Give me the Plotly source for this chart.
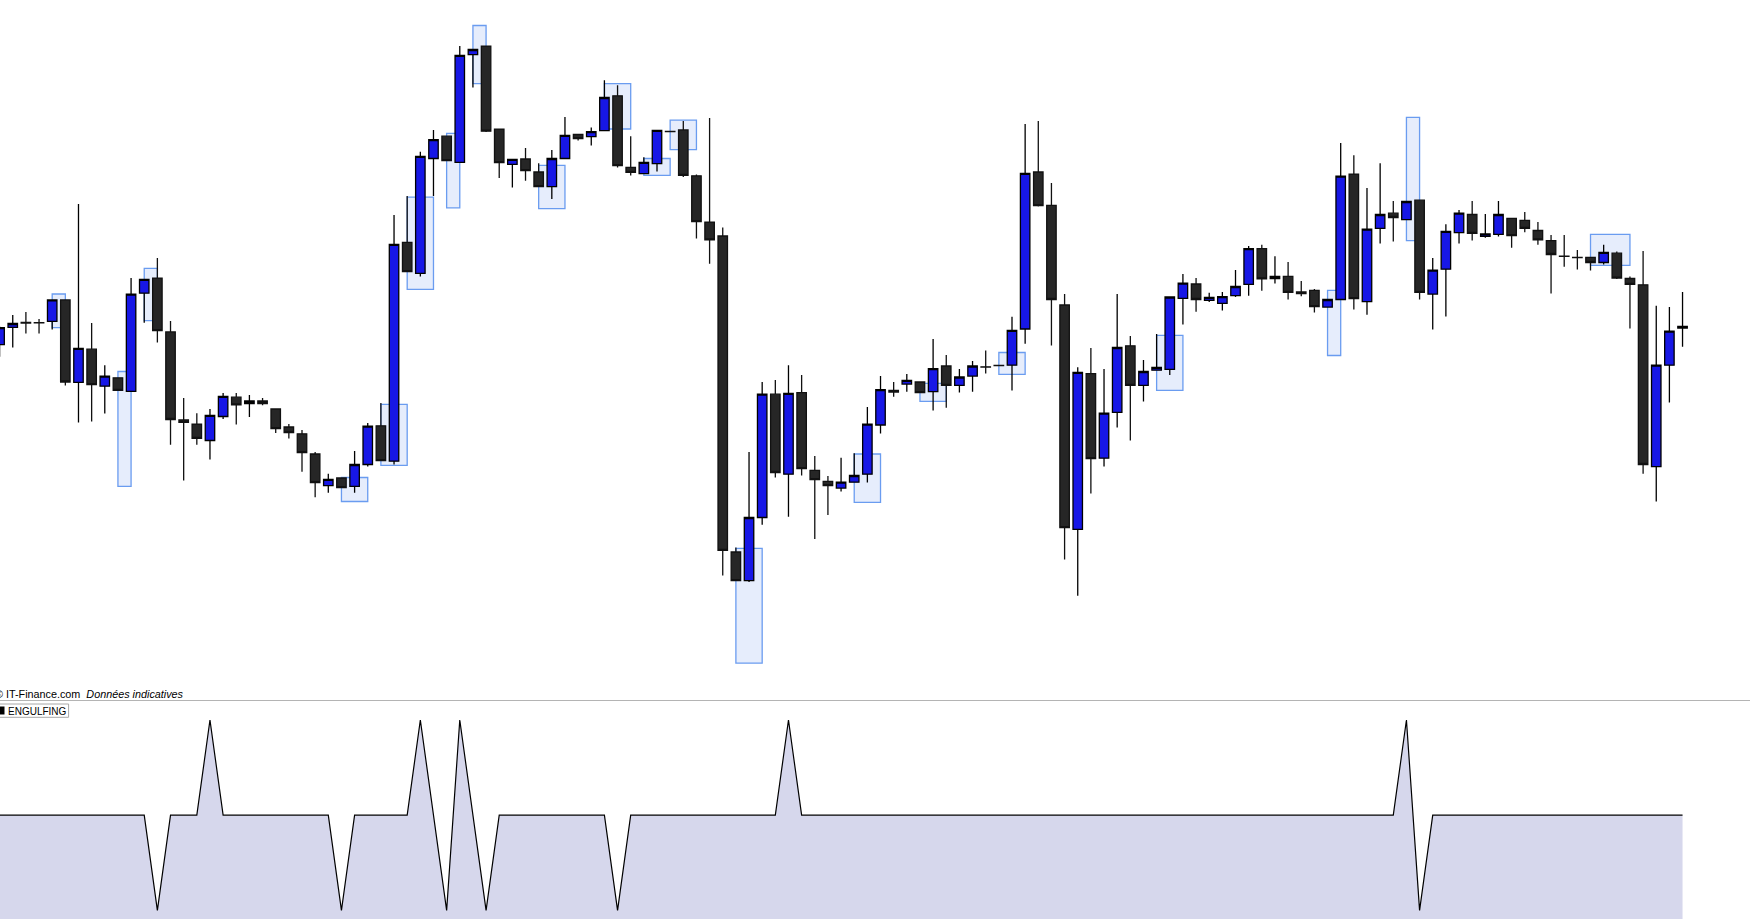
import plotly.graph_objects as go

# ---------------- data ----------------
open_ = [355.4, 372.7, 377.6, 377.4, 378.6, 400.1, 317.6, 350.8, 313.8, 322.2,
         308.7, 406.8, 421.9, 368.1, 280.1, 275.9, 259.5, 283.5, 302.8, 296.5,
         299.0, 291.0, 273.0, 266.2, 246.0, 214.4, 222.0, 213.6, 235.5, 274.2,
         238.8, 457.7, 426.6, 541.5, 563.8, 537.7, 645.4, 653.9, 570.9, 535.6,
         541.0, 528.0, 513.3, 541.5, 565.5, 563.4, 569.3, 604.2, 532.6, 526.3,
         536.4, 568.6, 570.1, 524.2, 477.9, 464.0, 148.0, 119.3, 182.5, 305.8,
         225.8, 307.4, 229.6, 218.6, 211.9, 217.8, 225.8, 275.0, 309.6, 315.9,
         318.0, 308.3, 334.0, 314.6, 323.9, 333.2, 334.5, 334.8, 371.0, 528.0,
         494.7, 395.0, 170.7, 326.4, 241.8, 287.7, 354.2, 314.6, 329.8, 330.6,
         401.7, 416.0, 399.6, 396.7, 404.3, 415.6, 451.4, 421.5, 423.6, 408.0,
         409.7, 392.9, 400.5, 525.9, 398.4, 471.6, 486.8, 480.4, 499.8, 405.9,
         430.8, 467.4, 485.5, 463.6, 465.7, 481.7, 479.6, 469.5, 459.4, 443.9,
         442.7, 442.6, 437.5, 446.8, 421.5, 415.2, 233.4, 334.8, 371.9]
high = [373.5, 384.9, 387.9, 381.1, 400.5, 400.1, 496.0, 376.9, 334.8, 322.2,
        421.9, 420.7, 442.1, 379.0, 302.0, 286.8, 291.0, 307.0, 307.0, 304.9,
        302.0, 291.0, 275.9, 270.0, 248.1, 226.2, 222.0, 248.9, 277.1, 296.9,
        485.1, 504.0, 548.2, 570.1, 563.8, 653.9, 650.5, 653.9, 570.9, 540.6,
        552.0, 536.8, 549.9, 583.1, 565.5, 572.6, 619.8, 614.7, 563.8, 542.7,
        569.7, 568.8, 578.9, 525.5, 581.9, 472.4, 152.6, 248.1, 318.0, 320.1,
        334.8, 325.1, 243.9, 224.1, 242.2, 246.8, 293.1, 323.9, 318.0, 326.0,
        318.8, 360.9, 344.9, 331.0, 339.0, 349.5, 334.6, 383.2, 576.0, 578.9,
        517.1, 405.9, 332.7, 352.0, 331.0, 405.9, 363.9, 339.9, 366.0, 403.8,
        426.1, 421.9, 407.2, 408.0, 429.9, 453.9, 455.2, 443.8, 437.9, 419.0,
        411.0, 400.5, 557.0, 544.8, 512.0, 536.8, 499.0, 498.5, 499.8, 442.1,
        475.8, 490.1, 499.0, 485.9, 499.0, 481.7, 488.0, 477.9, 464.9, 464.9,
        450.1, 442.6, 455.2, 448.5, 423.6, 448.9, 394.2, 392.9, 408.0]
low = [343.2, 352.5, 366.4, 366.4, 370.6, 314.6, 277.6, 278.4, 286.4, 309.6,
       308.7, 377.3, 357.5, 255.3, 219.5, 255.3, 240.5, 281.0, 275.5, 283.0,
       294.8, 267.0, 261.6, 228.3, 202.7, 207.3, 212.3, 207.3, 233.4, 239.3,
       235.5, 428.3, 423.6, 504.0, 539.4, 537.7, 612.6, 568.0, 522.1, 512.4,
       519.2, 513.3, 501.0, 541.5, 559.6, 554.5, 569.3, 532.6, 524.6, 526.3,
       528.4, 568.0, 523.0, 461.5, 436.2, 124.4, 119.3, 118.0, 175.3, 222.4,
       183.3, 224.5, 161.0, 185.0, 208.5, 217.8, 217.4, 266.6, 303.2, 308.3,
       307.4, 289.4, 292.3, 307.4, 308.3, 326.4, 334.2, 309.6, 356.3, 493.5,
       354.6, 140.4, 104.2, 206.4, 233.4, 272.5, 259.5, 298.6, 329.8, 325.1,
       375.6, 388.3, 397.9, 389.5, 403.0, 404.3, 409.3, 416.5, 400.5, 403.8,
       387.4, 392.9, 400.5, 390.4, 385.3, 456.5, 458.6, 480.4, 400.5, 370.6,
       383.6, 456.5, 459.4, 462.3, 463.6, 452.2, 467.8, 455.2, 406.4, 433.3,
       430.4, 429.5, 435.4, 421.1, 371.4, 226.2, 198.4, 297.4, 353.3]
close = [372.3, 376.5, 377.0, 377.1, 400.1, 318.0, 351.7, 315.4, 323.9, 309.6,
         405.9, 420.7, 369.3, 280.5, 277.6, 261.6, 284.7, 303.7, 295.2, 299.0,
         296.5, 271.3, 267.5, 247.3, 217.4, 220.7, 212.3, 235.5, 273.8, 239.3,
         455.6, 428.3, 543.6, 560.4, 539.4, 644.6, 650.5, 568.8, 537.3, 540.6,
         529.3, 513.3, 541.5, 564.6, 561.3, 568.4, 602.5, 534.3, 527.6, 537.7,
         569.7, 568.4, 524.6, 478.3, 460.2, 149.6, 119.3, 182.5, 305.8, 227.5,
         306.6, 231.3, 220.3, 214.4, 217.8, 224.5, 275.9, 310.4, 307.9, 319.7,
         307.4, 331.4, 314.6, 323.0, 334.0, 333.0, 334.3, 369.7, 526.7, 494.3,
         400.5, 172.4, 327.6, 241.4, 286.8, 352.5, 314.6, 328.5, 332.7, 403.0,
         416.9, 400.5, 402.6, 403.4, 413.5, 451.4, 421.1, 423.6, 407.6, 406.4,
         393.3, 400.5, 523.8, 401.3, 470.8, 485.5, 482.5, 498.5, 407.6, 429.9,
         468.7, 486.8, 466.6, 466.1, 485.5, 464.4, 471.6, 460.2, 445.5, 443.7,
         442.5, 437.5, 447.6, 421.9, 415.6, 235.5, 334.8, 368.9, 373.6]

# ENGULFING indicator (+100 bullish, -100 bearish, 0 none)
engulfing = [0, 0, 0, 0, 0, 0, 0, 0, 0, 0, 0, 0, -100, 0, 0, 0, 100, 0, 0, 0,
             0, 0, 0, 0, 0, 0, -100, 0, 0, 0, 0, 0, 100, 0, -100, 100, 0, -100, 0, 0,
             0, 0, 0, 0, 0, 0, 0, -100, 0, 0, 0, 0, 0, 0, 0, 0, 0, 0, 0, 0,
             100, 0, 0, 0, 0, 0, 0, 0, 0, 0, 0, 0, 0, 0, 0, 0, 0, 0, 0, 0,
             0, 0, 0, 0, 0, 0, 0, 0, 0, 0, 0, 0, 0, 0, 0, 0, 0, 0, 0, 0,
             0, 0, 0, 0, 0, 0, 0, 100, -100, 0, 0, 0, 0, 0, 0, 0, 0, 0, 0, 0,
             0, 0, 0, 0, 0, 0, 0, 0, 0]

# highlighted pattern zones (candle index range, price top / bottom)
box_start = [4, 9, 11, 26, 29, 31, 34, 36, 41, 46, 49, 51, 56, 65, 70, 76, 88, 101, 107, 121]
box_end = [5, 10, 12, 28, 31, 33, 35, 37, 43, 48, 51, 53, 58, 67, 72, 78, 90, 102, 108, 124]
box_top = [406.0, 328.5, 431.6, 222.5, 295.7, 502.8, 566.7, 674.5, 534.7, 616.4,
           541.5, 579.8, 151.7, 246.0, 316.7, 347.5, 364.7, 409.7, 582.7, 465.7]
box_bottom = [372.3, 213.6, 379.4, 198.5, 234.7, 410.6, 492.2, 616.4, 491.4, 571.0,
              524.6, 550.3, 36.9, 197.6, 298.6, 325.6, 309.6, 344.5, 459.4, 434.6]

x = list(range(len(open_)))

# ---------------- figure ----------------
W, H = 1750, 919
SEP = 700.5  # separator pixel row
main_bottom = (H - 700) / H

fig = go.Figure()
fig.add_trace(go.Candlestick(
    x=x, open=open_, high=high, low=low, close=close,
    xaxis="x", yaxis="y",
    increasing=dict(line=dict(color="#000000", width=1.3), fillcolor="#1717e6"),
    decreasing=dict(line=dict(color="#111111", width=1.3), fillcolor="#262626"),
    whiskerwidth=0, showlegend=False, hoverinfo="skip",
))

fig.add_trace(go.Scatter(
    x=x, y=[-200] * len(x), mode="lines", line=dict(width=0, color="rgba(0,0,0,0)"),
    xaxis="x2", yaxis="y2", showlegend=False, hoverinfo="skip",
))
fig.add_trace(go.Scatter(
    x=x, y=engulfing, mode="lines", line=dict(color="#000000", width=1.2),
    fill="tonexty", fillcolor="#d6d7ec",
    xaxis="x2", yaxis="y2", showlegend=False, hoverinfo="skip",
))

shapes = []
for s, e, t, b in zip(box_start, box_end, box_top, box_bottom):
    shapes.append(dict(type="rect", xref="x", yref="y", x0=s, x1=e, y0=b, y1=t,
                       line=dict(color="#6a9cf0", width=1.3), fillcolor="#e6edfc",
                       layer="below"))

# separator between panels
shapes.append(dict(type="line", xref="paper", yref="paper", x0=0, x1=1,
                   y0=(H - SEP) / H, y1=(H - SEP) / H,
                   line=dict(color="#b4b4b4", width=1)))
# legend box of the indicator panel
shapes.append(dict(type="rect", xref="paper", yref="paper",
                   x0=-1 / W, x1=68.6 / W, y0=(H - 717.3) / H, y1=(H - 704) / H,
                   line=dict(color="#a8a8a8", width=1), fillcolor="#ffffff"))
shapes.append(dict(type="rect", xref="paper", yref="paper",
                   x0=-1 / W, x1=4.5 / W, y0=(H - 714.5) / H, y1=(H - 706.5) / H,
                   line=dict(width=0), fillcolor="#000000"))

annotations = [
    dict(xref="paper", yref="paper", x=-7 / W, y=(H - 693.5) / H,
         xanchor="left", yanchor="middle", showarrow=False,
         text="© IT-Finance.com  <i>Données indicatives</i>",
         font=dict(family="Arial, Liberation Sans, sans-serif", size=10.8, color="#000000")),
    dict(xref="paper", yref="paper", x=5.5 / W, y=(H - 711) / H,
         xanchor="left", yanchor="middle", showarrow=False,
         text="ENGULFING",
         font=dict(family="Arial, Liberation Sans, sans-serif", size=10, color="#000000")),
]

xr = [0.0304, 0.0304 + W / 13.148]
fig.update_layout(
    width=W, height=H, margin=dict(l=0, r=0, t=0, b=0),
    paper_bgcolor="#ffffff", plot_bgcolor="#ffffff",
    showlegend=False, boxgap=0.28, boxgroupgap=0,
    xaxis=dict(range=xr, visible=False, domain=[0, 1], anchor="y",
               rangeslider=dict(visible=False), fixedrange=True),
    yaxis=dict(range=[0, 700], domain=[main_bottom, 1], visible=False, anchor="x"),
    xaxis2=dict(range=xr, visible=False, domain=[0, 1], anchor="y2"),
    yaxis2=dict(range=[-109.1, 121.0], domain=[0, main_bottom], visible=False, anchor="x2"),
    shapes=shapes, annotations=annotations,
)

fig.write_html("out.html", config={"displayModeBar": False},
               post_script="document.body.style.margin='0';document.body.style.overflow='hidden';")
